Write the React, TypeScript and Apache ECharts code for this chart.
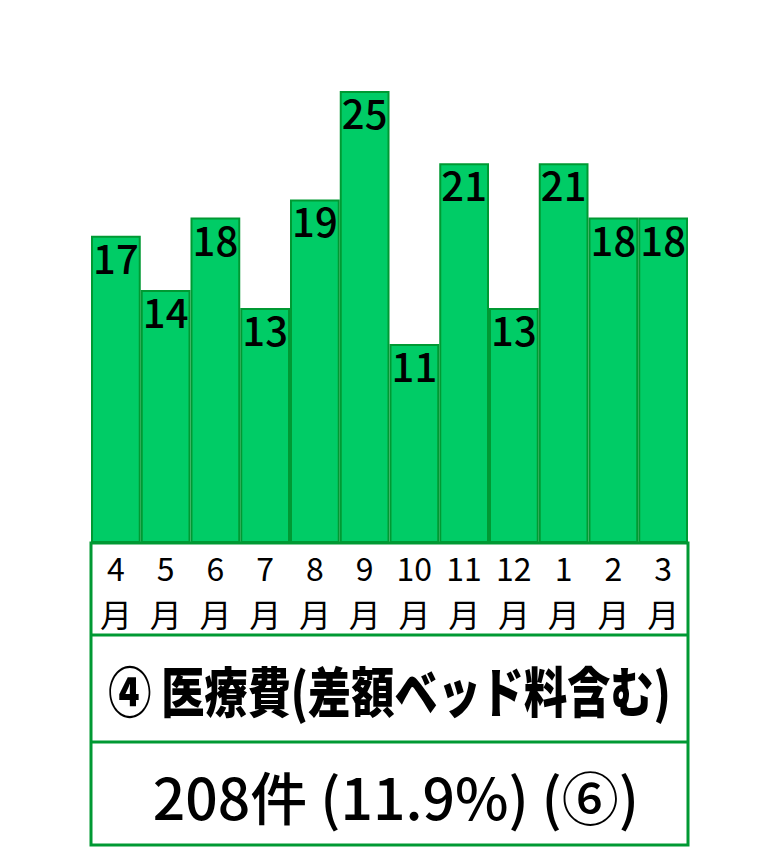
import { useEffect, useRef } from "react";
import * as echarts from "echarts";

const months = ["4", "5", "6", "7", "8", "9", "10", "11", "12", "1", "2", "3"];
const counts = [17, 14, 18, 13, 19, 25, 11, 21, 13, 21, 18, 18];
const titleText = "④ 医療費(差額ベッド料含む)";
const totalText = "208件 (11.9%) (⑥)";

const FONT = "'Noto Sans CJK JP', sans-serif";
const GREEN = "#00cc66";
const DARK = "#009933";

export default function App() {
  const chartRef = useRef<HTMLDivElement>(null);

  useEffect(() => {
    document.body.style.margin = "0";
    if (!chartRef.current) return;
    const chart = echarts.init(chartRef.current, undefined, { renderer: "svg" });

    const left = 91;
    const right = 688;
    const base = 543;
    const mid = (left + right) / 2;

    // two stacked label rows: the number, then 月 below it
    const monthAxis = (fmt: (m: string) => string, margin: number, size: number) => ({
      type: "category" as const,
      data: months,
      position: "bottom" as const,
      axisLine: { show: false },
      axisTick: { show: false },
      axisLabel: {
        formatter: fmt,
        fontSize: size,
        lineHeight: 30,
        color: "#000",
        fontFamily: FONT,
        margin,
        interval: 0,
      },
    });

    const option: echarts.EChartsOption = {
      animation: false,
      grid: { left, right: 780 - right, top: 91, height: base - 91 },
      xAxis: [monthAxis((m) => m, 9, 32), monthAxis(() => "月", 55, 32)],
      yAxis: { type: "value", min: 0, max: 25, show: false },
      series: [
        {
          type: "bar",
          data: counts,
          barCategoryGap: "0%",
          itemStyle: { color: GREEN, borderColor: DARK, borderWidth: 2 },
          label: {
            show: true,
            position: "insideTop",
            distance: 1,
            fontSize: 40,
            fontWeight: 500,
            color: "#000",
            fontFamily: FONT,
          },
        },
      ],
      graphic: [
        {
          type: "rect",
          shape: { x: left, y: base, width: right - left, height: 845 - base },
          style: { fill: "none", stroke: DARK, lineWidth: 3 },
        },
        {
          type: "line",
          shape: { x1: left, y1: 635, x2: right, y2: 635 },
          style: { stroke: DARK, lineWidth: 3 },
        },
        {
          type: "line",
          shape: { x1: left, y1: 742, x2: right, y2: 742 },
          style: { stroke: DARK, lineWidth: 3 },
        },
        {
          type: "text",
          x: mid,
          y: 689,
          scaleX: 0.8,
          style: {
            text: titleText,
            fontSize: 54,
            fontWeight: 900,
            fontFamily: FONT,
            fill: "#000",
            align: "center",
            verticalAlign: "middle",
          },
        },
        {
          type: "text",
          x: 396,
          y: 795,
          style: {
            text: totalText,
            fontSize: 57,
            fontWeight: 500,
            fontFamily: FONT,
            fill: "#000",
            align: "center",
            verticalAlign: "middle",
          },
        },
      ],
    };

    chart.setOption(option);
    return () => chart.dispose();
  }, []);

  return <div ref={chartRef} style={{ width: 780, height: 847 }} />;
}
